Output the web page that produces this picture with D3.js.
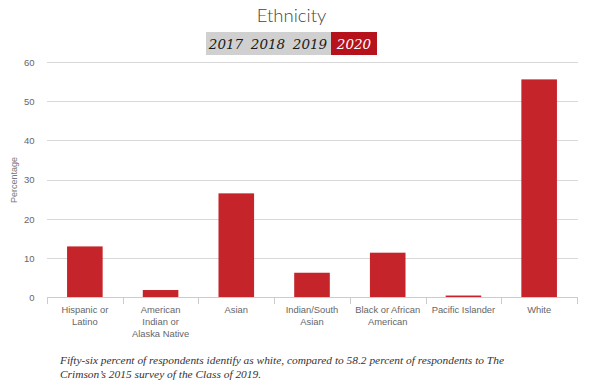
<!DOCTYPE html>
<html><head><meta charset="utf-8">
<script src="https://cdn.jsdelivr.net/npm/d3@7"></script>
<style>
html,body{margin:0;padding:0;background:#fff;}
svg{display:block;}
</style></head>
<body>
<svg id="chart" width="600" height="389"></svg>
<script>
const categories = [["Hispanic or","Latino"],["American","Indian or","Alaska Native"],["Asian"],["Indian/South","Asian"],["Black or African","American"],["Pacific Islander"],["White"]];
const values = [13.0, 1.9, 26.5, 6.3, 11.4, 0.5, 55.5];
const yTicks = [0,10,20,30,40,50,60];
const years = ["2017","2018","2019","2020"];
const captionLines = ["Fifty-six percent of respondents identify as white, compared to 58.2 percent of respondents to The","Crimson\u2019s 2015 survey of the Class of 2019."];

const svg = d3.select("#chart");
const labels = categories.map(c => c.join(" "));
const X0 = 47, X1 = 577;
const x = d3.scaleBand().domain(labels).range([X0, X1]).paddingInner(0.53).paddingOuter(0.265);
const xb = d3.scaleBand().domain(labels).range([X0, X1]);
const y = d3.scaleLinear().domain([0, 60]).range([297.5, 61.7]);

// title
svg.append("text").attr("x", 291.5).attr("y", 22).attr("text-anchor","middle")
  .attr("font-family","Lato, 'Open Sans', sans-serif").attr("font-weight","300")
  .attr("font-size", 18.5).attr("fill","#444").text("Ethnicity");

// year buttons
const by0 = 32, bh = 23;
svg.append("rect").attr("x", 206).attr("y", by0).attr("width", 125).attr("height", bh).attr("fill","#d0d0d0");
svg.append("rect").attr("x", 331).attr("y", by0).attr("width", 46).attr("height", bh).attr("fill","#b5121b");
const yearX = [226, 268, 310, 354];
years.forEach((yr,i)=>{
  svg.append("text").attr("x", yearX[i]).attr("y", 49).attr("text-anchor","middle")
    .attr("font-family","'DejaVu Serif', serif").attr("font-style","italic")
    .attr("font-size", 13.5).attr("fill", i===3 ? "#fff" : "#1a1a1a").text(yr);
});

// gridlines
svg.append("g").selectAll("line").data(yTicks.filter(d=>d>0)).join("line")
  .attr("x1",X0).attr("x2",X1+1).attr("y1",d=>Math.round(y(d))+0.5).attr("y2",d=>Math.round(y(d))+0.5)
  .attr("stroke","#d8d8d8").attr("stroke-width",1);

// y axis labels
const yAxis = d3.axisLeft(y).tickValues(yTicks).tickSize(0).tickPadding(0);
const gy = svg.append("g").attr("transform","translate(34.5,0)").call(yAxis);
gy.select(".domain").remove();
gy.selectAll("text").attr("font-family","Arial, 'Liberation Sans', sans-serif").attr("font-size",9.5).attr("fill","#666").attr("dy","0.35em");

svg.append("text").attr("transform","translate(17,180) rotate(-90)").attr("text-anchor","middle")
  .attr("font-family","Arial, 'Liberation Sans', sans-serif").attr("font-size",9).attr("fill","#777").text("Percentage");

// bars
svg.append("g").selectAll("rect").data(values).join("rect")
  .attr("x",(d,i)=>x(labels[i])).attr("width",x.bandwidth())
  .attr("y",d=>y(d)).attr("height",d=>y(0)-y(d))
  .attr("fill","#c4242a");

// x axis
svg.append("line").attr("x1",X0).attr("x2",X1+1).attr("y1",297.5).attr("y2",297.5).attr("stroke","#ccc");
const bounds = labels.map(l=>xb(l)).concat([X1]);
svg.append("g").selectAll("line").data(bounds).join("line")
  .attr("x1",d=>Math.round(d)+0.5).attr("x2",d=>Math.round(d)+0.5).attr("y1",297).attr("y2",304)
  .attr("stroke","#ccc");
const gx = svg.append("g");
categories.forEach((c,i)=>{
  const cx = xb(labels[i]) + xb.bandwidth()/2;
  const t = gx.append("text").attr("x", cx).attr("y", 313)
    .attr("text-anchor","middle").attr("font-family","Arial, 'Liberation Sans', sans-serif")
    .attr("font-size",9.4).attr("fill","#666");
  c.forEach((line,j)=>t.append("tspan").attr("x", cx).attr("dy", j===0?0:12).text(line));
});

// caption
captionLines.forEach((line,i)=>{
  svg.append("text").attr("x",60).attr("y",364 + i*13.5)
    .attr("font-family","'Liberation Serif', Georgia, serif").attr("font-style","italic")
    .attr("font-size",11.4).attr("fill","#333").text(line);
});
</script>
</body></html>
